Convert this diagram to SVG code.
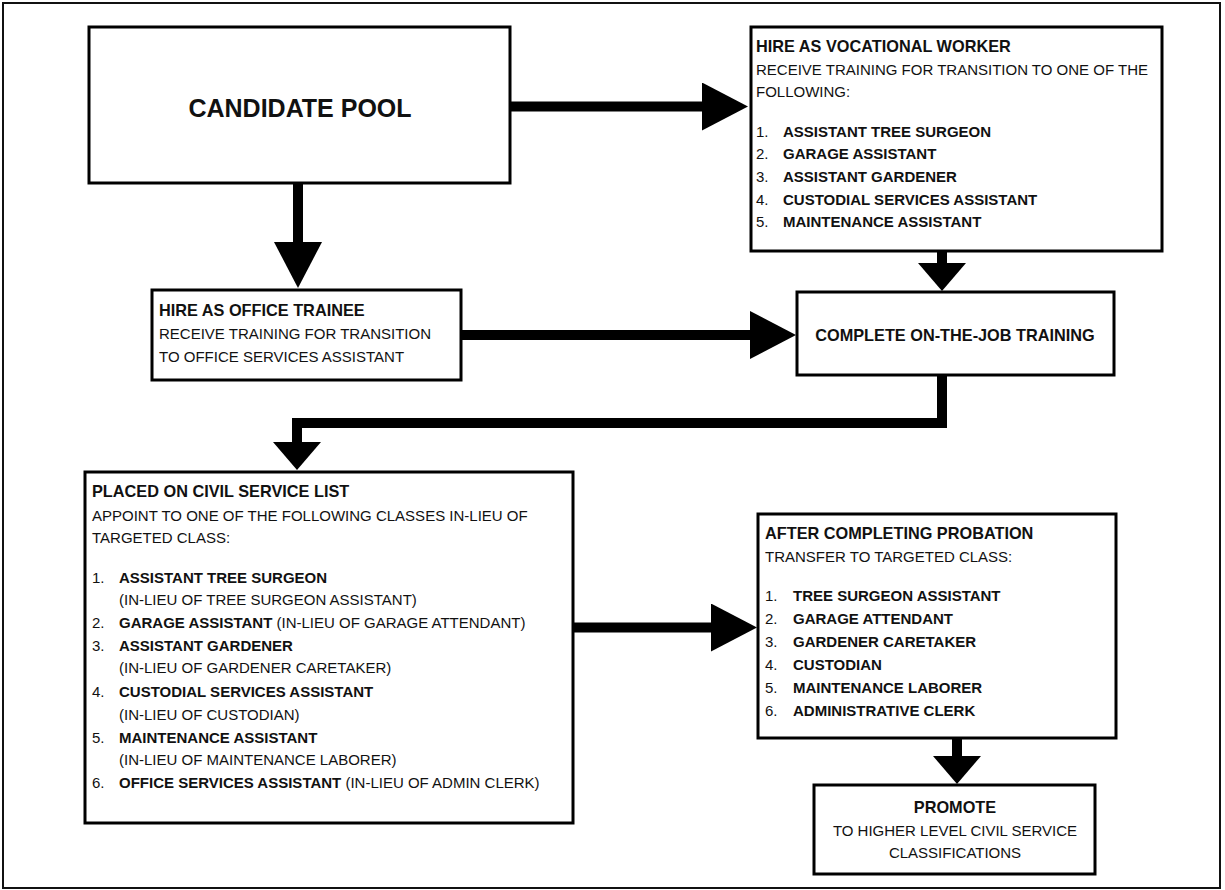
<svg xmlns="http://www.w3.org/2000/svg" width="1225" height="890" viewBox="0 0 1225 890">
<style>
.box{fill:#fff;stroke:#000;stroke-width:3}
text{font-family:"Liberation Sans",Arial,sans-serif;fill:#111}
.t{font-weight:bold;font-size:16.3px}
.r{font-size:15px}
.b{font-weight:bold;font-size:15px}
.big{font-weight:bold;font-size:25px}
.c{text-anchor:middle}
.ln{fill:none;stroke:#000;stroke-width:10;stroke-linejoin:miter}
.lnl{fill:none;stroke:#000;stroke-width:10;marker-end:url(#hl)}
.lns{fill:none;stroke:#000;stroke-width:10;marker-end:url(#hs)}
</style>
<defs>
<marker id="hl" markerUnits="userSpaceOnUse" viewBox="0 -24 46 48" refX="1" refY="0" markerWidth="46" markerHeight="48" orient="auto"><path d="M0,-24 L46,0 L0,24 Z" fill="#000"/></marker>
<marker id="hs" markerUnits="userSpaceOnUse" viewBox="0 -24 28 48" refX="1" refY="0" markerWidth="28" markerHeight="48" orient="auto"><path d="M0,-24 L28,0 L0,24 Z" fill="#000"/></marker>
</defs>
<rect x="0" y="0" width="1225" height="890" fill="#fff"/>
<rect x="3" y="3" width="1217" height="885" fill="none" stroke="#111" stroke-width="2"/>

<g id="connectors">
<path class="lnl" d="M510,106.5 H703"/>
<path class="lnl" d="M298,183 V243"/>
<path class="lns" d="M942,251 V264"/>
<path class="lnl" d="M461,335 H751"/>
<path class="ln" d="M942,375 V423 H297 V440"/>
<path class="lns" d="M297,435 V443"/>
<path class="lnl" d="M573,627.5 H712"/>
<path class="lns" d="M957,738 V757"/>
</g>

<g id="candidate-pool">
<rect class="box" x="89" y="27" width="421" height="156"/>
<text class="big c" x="300" y="117">CANDIDATE POOL</text>
</g>

<g id="vocational-worker">
<rect class="box" x="751" y="27" width="411" height="224"/>
<text class="t" x="756" y="52">HIRE AS VOCATIONAL WORKER</text>
<text class="r" x="756" y="75">RECEIVE TRAINING FOR TRANSITION TO ONE OF THE</text>
<text class="r" x="756" y="97">FOLLOWING:</text>
<text class="r" x="756" y="137">1.</text><text class="b" x="783" y="137">ASSISTANT TREE SURGEON</text>
<text class="r" x="756" y="159">2.</text><text class="b" x="783" y="159">GARAGE ASSISTANT</text>
<text class="r" x="756" y="182">3.</text><text class="b" x="783" y="182">ASSISTANT GARDENER</text>
<text class="r" x="756" y="205">4.</text><text class="b" x="783" y="205">CUSTODIAL SERVICES ASSISTANT</text>
<text class="r" x="756" y="227">5.</text><text class="b" x="783" y="227">MAINTENANCE ASSISTANT</text>
</g>

<g id="office-trainee">
<rect class="box" x="152" y="290" width="309" height="90"/>
<text class="t" x="159" y="316">HIRE AS OFFICE TRAINEE</text>
<text class="r" x="159" y="339">RECEIVE TRAINING FOR TRANSITION</text>
<text class="r" x="159" y="362">TO OFFICE SERVICES ASSISTANT</text>
</g>

<g id="on-the-job">
<rect class="box" x="797" y="292" width="317" height="83"/>
<text class="t c" x="955" y="341">COMPLETE ON-THE-JOB TRAINING</text>
</g>

<g id="civil-service-list">
<rect class="box" x="85" y="472" width="488" height="351"/>
<text class="t" x="92" y="497">PLACED ON CIVIL SERVICE LIST</text>
<text class="r" x="92" y="521">APPOINT TO ONE OF THE FOLLOWING CLASSES IN-LIEU OF</text>
<text class="r" x="92" y="543">TARGETED CLASS:</text>
<text class="r" x="92" y="583">1.</text><text class="b" x="119" y="583">ASSISTANT TREE SURGEON</text>
<text class="r" x="119" y="605">(IN-LIEU OF TREE SURGEON ASSISTANT)</text>
<text class="r" x="92" y="628">2.</text><text class="b" x="119" y="628">GARAGE ASSISTANT <tspan class="r" font-weight="normal">(IN-LIEU OF GARAGE ATTENDANT)</tspan></text>
<text class="r" x="92" y="651">3.</text><text class="b" x="119" y="651">ASSISTANT GARDENER</text>
<text class="r" x="119" y="673">(IN-LIEU OF GARDENER CARETAKER)</text>
<text class="r" x="92" y="697">4.</text><text class="b" x="119" y="697">CUSTODIAL SERVICES ASSISTANT</text>
<text class="r" x="119" y="720">(IN-LIEU OF CUSTODIAN)</text>
<text class="r" x="92" y="743">5.</text><text class="b" x="119" y="743">MAINTENANCE ASSISTANT</text>
<text class="r" x="119" y="765">(IN-LIEU OF MAINTENANCE LABORER)</text>
<text class="r" x="92" y="788">6.</text><text class="b" x="119" y="788">OFFICE SERVICES ASSISTANT <tspan class="r" font-weight="normal">(IN-LIEU OF ADMIN CLERK)</tspan></text>
</g>

<g id="after-probation">
<rect class="box" x="758" y="514" width="358" height="224"/>
<text class="t" x="765" y="539">AFTER COMPLETING PROBATION</text>
<text class="r" x="765" y="562">TRANSFER TO TARGETED CLASS:</text>
<text class="r" x="765" y="601">1.</text><text class="b" x="793" y="601">TREE SURGEON ASSISTANT</text>
<text class="r" x="765" y="624">2.</text><text class="b" x="793" y="624">GARAGE ATTENDANT</text>
<text class="r" x="765" y="647">3.</text><text class="b" x="793" y="647">GARDENER CARETAKER</text>
<text class="r" x="765" y="670">4.</text><text class="b" x="793" y="670">CUSTODIAN</text>
<text class="r" x="765" y="693">5.</text><text class="b" x="793" y="693">MAINTENANCE LABORER</text>
<text class="r" x="765" y="716">6.</text><text class="b" x="793" y="716">ADMINISTRATIVE CLERK</text>
</g>

<g id="promote">
<rect class="box" x="814" y="785" width="281" height="89"/>
<text class="t c" x="955" y="813">PROMOTE</text>
<text class="r c" x="955" y="836">TO HIGHER LEVEL CIVIL SERVICE</text>
<text class="r c" x="955" y="858">CLASSIFICATIONS</text>
</g>
</svg>
